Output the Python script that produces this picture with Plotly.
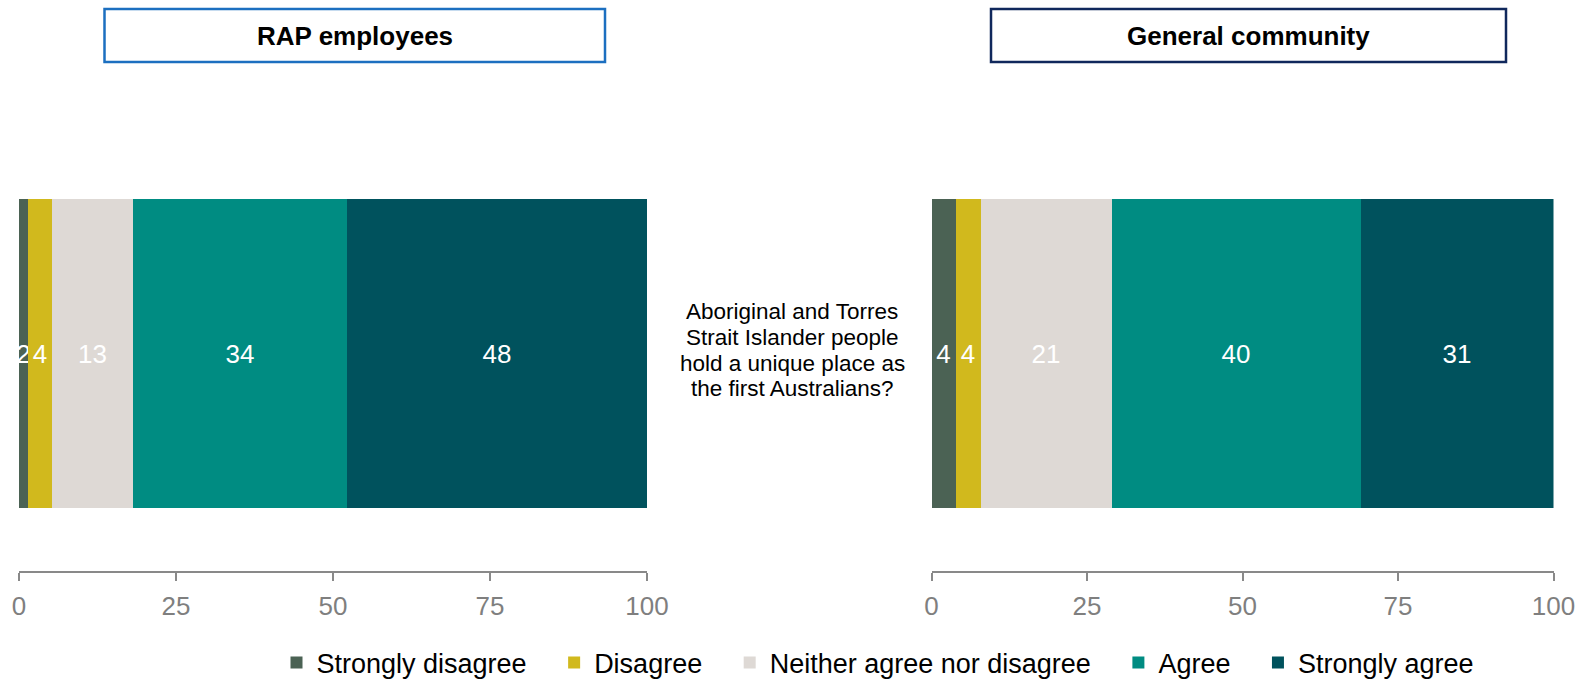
import plotly.graph_objects as go

# Survey responses (%), one stacked bar per group
categories = ["Strongly disagree", "Disagree", "Neither agree nor disagree", "Agree", "Strongly agree"]
rap_employees = [1.5, 3.7, 12.9, 34.1, 47.8]
general_community = [3.9, 3.9, 21.2, 40.0, 31.0]
panel_titles = ["RAP employees", "General community"]
question_lines = ["Aboriginal and Torres", "Strait Islander people",
                  "hold a unique place as", "the first Australians?"]
tick_values = [0, 25, 50, 75, 100]

colors = ["#4B6254", "#D1B91D", "#DED9D5", "#008C82", "#00525D"]
FONT = "Arial, Liberation Sans, sans-serif"
W, H = 1591, 680

def px_x(x):
    return x / W

def px_y(y):
    return 1 - y / H

fig = go.Figure()

BAR_Y = 0.5847
BAR_W = 0.8306
for idx, (series, xa, ya) in enumerate([(rap_employees, "x", "y"), (general_community, "x2", "y2")]):
    for i, (cat, val, col) in enumerate(zip(categories, series, colors)):
        pad = "\u00a0" * 3 if i < len(categories) - 1 else ""
        fig.add_trace(go.Bar(
            x=[val], y=[BAR_Y], width=[BAR_W], orientation="h",
            name=cat + pad, legendgroup=cat, showlegend=(idx == 0),
            marker=dict(color=col, line=dict(width=0)),
            texttemplate="%{x:.0f}", textposition="inside", insidetextanchor="middle",
            textangle=0, insidetextfont=dict(color="white", size=26, family=FONT),
            xaxis=xa, yaxis=ya, hoverinfo="skip",
        ))

axis_style = dict(
    range=[0, 100], tickvals=tick_values, showline=True, linecolor="#898989", linewidth=1.5,
    ticks="outside", ticklen=8, tickwidth=1.5, tickcolor="#898989", ticklabelstandoff=3,
    showgrid=False, zeroline=False, fixedrange=True, automargin=False,
    tickfont=dict(size=26, color="#7F7F7F", family=FONT),
)
y_dom = [px_y(571), px_y(199)]
y_style = dict(range=[0, 1], visible=False, domain=y_dom, fixedrange=True, automargin=False)

fig.update_layout(
    width=W, height=H, margin=dict(l=0, r=0, t=0, b=0, pad=0, autoexpand=False),
    paper_bgcolor="white", plot_bgcolor="white",
    barmode="stack", bargap=0,
    font=dict(family=FONT, color="black"),
    xaxis=dict(domain=[px_x(19), px_x(647)], anchor="y", **axis_style),
    xaxis2=dict(domain=[px_x(931.5), px_x(1553.5)], anchor="y2", **axis_style),
    yaxis=dict(anchor="x", **y_style),
    yaxis2=dict(anchor="x2", **y_style),
    uniformtext=dict(minsize=26, mode="show"),
    showlegend=True,
    legend=dict(orientation="h", x=px_x(878), xanchor="center", y=px_y(663), yanchor="middle",
                font=dict(size=27, color="black", family=FONT), traceorder="normal",
                itemsizing="constant", bgcolor="rgba(0,0,0,0)"),
)

# Panel header boxes
boxes = [((104.5, 605), "#1C6FC0"), ((991, 1506), "#10285C")]
for (x0, x1), border in boxes:
    fig.add_shape(type="rect", xref="paper", yref="paper",
                  x0=px_x(x0), x1=px_x(x1), y0=px_y(62), y1=px_y(9),
                  line=dict(color=border, width=2.5), fillcolor="white")
for ((x0, x1), _), title in zip(boxes, panel_titles):
    fig.add_annotation(text="<b>" + title + "</b>", xref="paper", yref="paper",
                       x=px_x((x0 + x1) / 2), y=px_y(36), xanchor="center", yanchor="middle",
                       showarrow=False, font=dict(size=26, color="black", family=FONT))

# Question text between the panels
for i, line in enumerate(question_lines):
    fig.add_annotation(text=line, xref="paper", yref="paper",
                       x=px_x(792), y=px_y(312 + 25.5 * i), xanchor="center", yanchor="middle",
                       showarrow=False, font=dict(size=22.5, color="black", family=FONT))

fig.write_html("out.html")
